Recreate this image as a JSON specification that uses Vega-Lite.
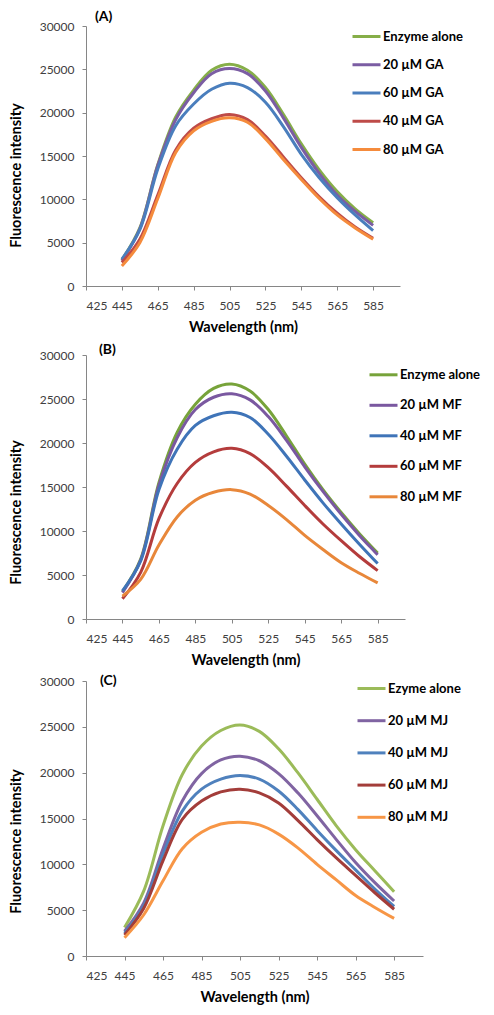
{
  "$schema": "https://vega.github.io/schema/vega-lite/v6.json",
  "background": "white",
  "padding": {"left": 8, "top": 10, "right": 5, "bottom": 5},
  "config": {
    "view": {"stroke": null},
    "font": "Lato",
    "axis": {"grid": false, "domainColor": "#868686", "tickColor": "#868686", "tickSize": 4, "labelFont": "Lato", "labelFontSize": 12, "labelColor": "#404040", "titleFont": "Lato", "titleFontSize": 14.5, "titleFontWeight": "bold", "titleColor": "#000000"},
    "axisX": {"labelPadding": 10, "titlePadding": 9},
    "axisY": {"labelPadding": 8, "titleBaseline": "middle", "titleX": -70},
    "legend": {"orient": "none", "title": null, "symbolType": "stroke", "symbolSize": 784, "symbolStrokeWidth": 3, "labelFont": "Lato", "labelFontSize": 13, "labelFontWeight": "bold", "labelColor": "#000000", "labelOffset": 1, "padding": 0, "offset": 0},
    "title": {"font": "Lato", "fontSize": 14, "fontWeight": "bold", "color": "#000000", "anchor": "start", "frame": "group"}
  },
  "datasets": {
    "A": [
      {"s": "Enzyme alone", "x": 445, "y": 3000}, {"s": "Enzyme alone", "x": 455, "y": 6700}, {"s": "Enzyme alone", "x": 465, "y": 14000}, {"s": "Enzyme alone", "x": 475, "y": 19500}, {"s": "Enzyme alone", "x": 485, "y": 22600}, {"s": "Enzyme alone", "x": 495, "y": 24900}, {"s": "Enzyme alone", "x": 505, "y": 25600}, {"s": "Enzyme alone", "x": 515, "y": 24900}, {"s": "Enzyme alone", "x": 525, "y": 22900}, {"s": "Enzyme alone", "x": 535, "y": 19800}, {"s": "Enzyme alone", "x": 545, "y": 16400}, {"s": "Enzyme alone", "x": 555, "y": 13400}, {"s": "Enzyme alone", "x": 565, "y": 10900}, {"s": "Enzyme alone", "x": 575, "y": 8900}, {"s": "Enzyme alone", "x": 585, "y": 7300},
      {"s": "20 µM GA", "x": 445, "y": 2900}, {"s": "20 µM GA", "x": 455, "y": 6600}, {"s": "20 µM GA", "x": 465, "y": 13900}, {"s": "20 µM GA", "x": 475, "y": 19200}, {"s": "20 µM GA", "x": 485, "y": 22300}, {"s": "20 µM GA", "x": 495, "y": 24500}, {"s": "20 µM GA", "x": 505, "y": 25100}, {"s": "20 µM GA", "x": 515, "y": 24500}, {"s": "20 µM GA", "x": 525, "y": 22500}, {"s": "20 µM GA", "x": 535, "y": 19400}, {"s": "20 µM GA", "x": 545, "y": 16000}, {"s": "20 µM GA", "x": 555, "y": 13000}, {"s": "20 µM GA", "x": 565, "y": 10500}, {"s": "20 µM GA", "x": 575, "y": 8600}, {"s": "20 µM GA", "x": 585, "y": 7000},
      {"s": "60 µM GA", "x": 445, "y": 3100}, {"s": "60 µM GA", "x": 455, "y": 6500}, {"s": "60 µM GA", "x": 465, "y": 13500}, {"s": "60 µM GA", "x": 475, "y": 18500}, {"s": "60 µM GA", "x": 485, "y": 21000}, {"s": "60 µM GA", "x": 495, "y": 22700}, {"s": "60 µM GA", "x": 505, "y": 23400}, {"s": "60 µM GA", "x": 515, "y": 22900}, {"s": "60 µM GA", "x": 525, "y": 21200}, {"s": "60 µM GA", "x": 535, "y": 18400}, {"s": "60 µM GA", "x": 545, "y": 15200}, {"s": "60 µM GA", "x": 555, "y": 12500}, {"s": "60 µM GA", "x": 565, "y": 10200}, {"s": "60 µM GA", "x": 575, "y": 8200}, {"s": "60 µM GA", "x": 585, "y": 6400},
      {"s": "40 µM GA", "x": 445, "y": 2700}, {"s": "40 µM GA", "x": 455, "y": 5400}, {"s": "40 µM GA", "x": 465, "y": 10500}, {"s": "40 µM GA", "x": 475, "y": 15700}, {"s": "40 µM GA", "x": 485, "y": 18200}, {"s": "40 µM GA", "x": 495, "y": 19300}, {"s": "40 µM GA", "x": 505, "y": 19800}, {"s": "40 µM GA", "x": 515, "y": 19200}, {"s": "40 µM GA", "x": 525, "y": 17300}, {"s": "40 µM GA", "x": 535, "y": 14900}, {"s": "40 µM GA", "x": 545, "y": 12500}, {"s": "40 µM GA", "x": 555, "y": 10300}, {"s": "40 µM GA", "x": 565, "y": 8400}, {"s": "40 µM GA", "x": 575, "y": 6800}, {"s": "40 µM GA", "x": 585, "y": 5500},
      {"s": "80 µM GA", "x": 445, "y": 2300}, {"s": "80 µM GA", "x": 455, "y": 5000}, {"s": "80 µM GA", "x": 465, "y": 10100}, {"s": "80 µM GA", "x": 475, "y": 15400}, {"s": "80 µM GA", "x": 485, "y": 17900}, {"s": "80 µM GA", "x": 495, "y": 19000}, {"s": "80 µM GA", "x": 505, "y": 19400}, {"s": "80 µM GA", "x": 515, "y": 18900}, {"s": "80 µM GA", "x": 525, "y": 17000}, {"s": "80 µM GA", "x": 535, "y": 14600}, {"s": "80 µM GA", "x": 545, "y": 12300}, {"s": "80 µM GA", "x": 555, "y": 10100}, {"s": "80 µM GA", "x": 565, "y": 8200}, {"s": "80 µM GA", "x": 575, "y": 6700}, {"s": "80 µM GA", "x": 585, "y": 5400}
    ],
    "B": [
      {"s": "Enzyme alone", "x": 445, "y": 3100}, {"s": "Enzyme alone", "x": 455, "y": 6800}, {"s": "Enzyme alone", "x": 465, "y": 15500}, {"s": "Enzyme alone", "x": 475, "y": 21200}, {"s": "Enzyme alone", "x": 485, "y": 24400}, {"s": "Enzyme alone", "x": 495, "y": 26200}, {"s": "Enzyme alone", "x": 505, "y": 26700}, {"s": "Enzyme alone", "x": 515, "y": 25900}, {"s": "Enzyme alone", "x": 525, "y": 23800}, {"s": "Enzyme alone", "x": 535, "y": 20800}, {"s": "Enzyme alone", "x": 545, "y": 17600}, {"s": "Enzyme alone", "x": 555, "y": 14700}, {"s": "Enzyme alone", "x": 565, "y": 12100}, {"s": "Enzyme alone", "x": 575, "y": 9700}, {"s": "Enzyme alone", "x": 585, "y": 7500},
      {"s": "20 µM MF", "x": 445, "y": 3000}, {"s": "20 µM MF", "x": 455, "y": 6700}, {"s": "20 µM MF", "x": 465, "y": 15200}, {"s": "20 µM MF", "x": 475, "y": 20600}, {"s": "20 µM MF", "x": 485, "y": 23800}, {"s": "20 µM MF", "x": 495, "y": 25200}, {"s": "20 µM MF", "x": 505, "y": 25600}, {"s": "20 µM MF", "x": 515, "y": 24900}, {"s": "20 µM MF", "x": 525, "y": 23000}, {"s": "20 µM MF", "x": 535, "y": 20300}, {"s": "20 µM MF", "x": 545, "y": 17300}, {"s": "20 µM MF", "x": 555, "y": 14500}, {"s": "20 µM MF", "x": 565, "y": 11900}, {"s": "20 µM MF", "x": 575, "y": 9500}, {"s": "20 µM MF", "x": 585, "y": 7300},
      {"s": "40 µM MF", "x": 445, "y": 3200}, {"s": "40 µM MF", "x": 455, "y": 6600}, {"s": "40 µM MF", "x": 465, "y": 14700}, {"s": "40 µM MF", "x": 475, "y": 19300}, {"s": "40 µM MF", "x": 485, "y": 22000}, {"s": "40 µM MF", "x": 495, "y": 23100}, {"s": "40 µM MF", "x": 505, "y": 23500}, {"s": "40 µM MF", "x": 515, "y": 22900}, {"s": "40 µM MF", "x": 525, "y": 21000}, {"s": "40 µM MF", "x": 535, "y": 18500}, {"s": "40 µM MF", "x": 545, "y": 15800}, {"s": "40 µM MF", "x": 555, "y": 13200}, {"s": "40 µM MF", "x": 565, "y": 10800}, {"s": "40 µM MF", "x": 575, "y": 8500}, {"s": "40 µM MF", "x": 585, "y": 6300},
      {"s": "60 µM MF", "x": 445, "y": 2300}, {"s": "60 µM MF", "x": 455, "y": 5300}, {"s": "60 µM MF", "x": 465, "y": 11400}, {"s": "60 µM MF", "x": 475, "y": 15400}, {"s": "60 µM MF", "x": 485, "y": 17800}, {"s": "60 µM MF", "x": 495, "y": 19000}, {"s": "60 µM MF", "x": 505, "y": 19400}, {"s": "60 µM MF", "x": 515, "y": 18800}, {"s": "60 µM MF", "x": 525, "y": 17200}, {"s": "60 µM MF", "x": 535, "y": 15100}, {"s": "60 µM MF", "x": 545, "y": 12900}, {"s": "60 µM MF", "x": 555, "y": 10800}, {"s": "60 µM MF", "x": 565, "y": 8900}, {"s": "60 µM MF", "x": 575, "y": 7100}, {"s": "60 µM MF", "x": 585, "y": 5500},
      {"s": "80 µM MF", "x": 445, "y": 2600}, {"s": "80 µM MF", "x": 455, "y": 4500}, {"s": "80 µM MF", "x": 465, "y": 8400}, {"s": "80 µM MF", "x": 475, "y": 11600}, {"s": "80 µM MF", "x": 485, "y": 13500}, {"s": "80 µM MF", "x": 495, "y": 14400}, {"s": "80 µM MF", "x": 505, "y": 14700}, {"s": "80 µM MF", "x": 515, "y": 14200}, {"s": "80 µM MF", "x": 525, "y": 12900}, {"s": "80 µM MF", "x": 535, "y": 11300}, {"s": "80 µM MF", "x": 545, "y": 9500}, {"s": "80 µM MF", "x": 555, "y": 7900}, {"s": "80 µM MF", "x": 565, "y": 6400}, {"s": "80 µM MF", "x": 575, "y": 5200}, {"s": "80 µM MF", "x": 585, "y": 4100}
    ],
    "C": [
      {"s": "Ezyme alone", "x": 445, "y": 3100}, {"s": "Ezyme alone", "x": 455, "y": 7100}, {"s": "Ezyme alone", "x": 465, "y": 14200}, {"s": "Ezyme alone", "x": 475, "y": 19800}, {"s": "Ezyme alone", "x": 485, "y": 22900}, {"s": "Ezyme alone", "x": 495, "y": 24600}, {"s": "Ezyme alone", "x": 505, "y": 25200}, {"s": "Ezyme alone", "x": 515, "y": 24500}, {"s": "Ezyme alone", "x": 525, "y": 22600}, {"s": "Ezyme alone", "x": 535, "y": 20000}, {"s": "Ezyme alone", "x": 545, "y": 17100}, {"s": "Ezyme alone", "x": 555, "y": 14200}, {"s": "Ezyme alone", "x": 565, "y": 11600}, {"s": "Ezyme alone", "x": 575, "y": 9300}, {"s": "Ezyme alone", "x": 585, "y": 7000},
      {"s": "20 µM MJ", "x": 445, "y": 2700}, {"s": "20 µM MJ", "x": 455, "y": 5800}, {"s": "20 µM MJ", "x": 465, "y": 11700}, {"s": "20 µM MJ", "x": 475, "y": 16900}, {"s": "20 µM MJ", "x": 485, "y": 19900}, {"s": "20 µM MJ", "x": 495, "y": 21400}, {"s": "20 µM MJ", "x": 505, "y": 21800}, {"s": "20 µM MJ", "x": 515, "y": 21300}, {"s": "20 µM MJ", "x": 525, "y": 19900}, {"s": "20 µM MJ", "x": 535, "y": 17800}, {"s": "20 µM MJ", "x": 545, "y": 15300}, {"s": "20 µM MJ", "x": 555, "y": 12700}, {"s": "20 µM MJ", "x": 565, "y": 10200}, {"s": "20 µM MJ", "x": 575, "y": 8000}, {"s": "20 µM MJ", "x": 585, "y": 6000},
      {"s": "40 µM MJ", "x": 445, "y": 2500}, {"s": "40 µM MJ", "x": 455, "y": 5500}, {"s": "40 µM MJ", "x": 465, "y": 11100}, {"s": "40 µM MJ", "x": 475, "y": 15800}, {"s": "40 µM MJ", "x": 485, "y": 18200}, {"s": "40 µM MJ", "x": 495, "y": 19300}, {"s": "40 µM MJ", "x": 505, "y": 19700}, {"s": "40 µM MJ", "x": 515, "y": 19300}, {"s": "40 µM MJ", "x": 525, "y": 18000}, {"s": "40 µM MJ", "x": 535, "y": 16000}, {"s": "40 µM MJ", "x": 545, "y": 13700}, {"s": "40 µM MJ", "x": 555, "y": 11500}, {"s": "40 µM MJ", "x": 565, "y": 9400}, {"s": "40 µM MJ", "x": 575, "y": 7300}, {"s": "40 µM MJ", "x": 585, "y": 5400},
      {"s": "60 µM MJ", "x": 445, "y": 2300}, {"s": "60 µM MJ", "x": 455, "y": 5200}, {"s": "60 µM MJ", "x": 465, "y": 10400}, {"s": "60 µM MJ", "x": 475, "y": 14900}, {"s": "60 µM MJ", "x": 485, "y": 16900}, {"s": "60 µM MJ", "x": 495, "y": 17900}, {"s": "60 µM MJ", "x": 505, "y": 18200}, {"s": "60 µM MJ", "x": 515, "y": 17800}, {"s": "60 µM MJ", "x": 525, "y": 16700}, {"s": "60 µM MJ", "x": 535, "y": 14800}, {"s": "60 µM MJ", "x": 545, "y": 12700}, {"s": "60 µM MJ", "x": 555, "y": 10700}, {"s": "60 µM MJ", "x": 565, "y": 8800}, {"s": "60 µM MJ", "x": 575, "y": 6900}, {"s": "60 µM MJ", "x": 585, "y": 5100},
      {"s": "80 µM MJ", "x": 445, "y": 2000}, {"s": "80 µM MJ", "x": 455, "y": 4500}, {"s": "80 µM MJ", "x": 465, "y": 8200}, {"s": "80 µM MJ", "x": 475, "y": 11700}, {"s": "80 µM MJ", "x": 485, "y": 13500}, {"s": "80 µM MJ", "x": 495, "y": 14400}, {"s": "80 µM MJ", "x": 505, "y": 14600}, {"s": "80 µM MJ", "x": 515, "y": 14300}, {"s": "80 µM MJ", "x": 525, "y": 13300}, {"s": "80 µM MJ", "x": 535, "y": 11800}, {"s": "80 µM MJ", "x": 545, "y": 10000}, {"s": "80 µM MJ", "x": 555, "y": 8300}, {"s": "80 µM MJ", "x": 565, "y": 6600}, {"s": "80 µM MJ", "x": 575, "y": 5300}, {"s": "80 µM MJ", "x": 585, "y": 4100}
    ]
  },
  "bounds": "flush",
  "spacing": 69,
  "resolve": {"scale": {"color": "independent", "x": "independent", "y": "independent"}, "legend": {"color": "independent"}},
  "vconcat": [
    {
      "width": 314, "height": 260,
      "title": {"text": "(A)", "dx": 9, "offset": -4},
      "data": {"name": "A"},
      "mark": {"type": "line", "interpolate": "catmull-rom", "strokeWidth": 3},
      "encoding": {
        "x": {"field": "x", "type": "quantitative", "scale": {"domain": [425, 600], "nice": false}, "axis": {"values": [425, 445, 465, 485, 505, 525, 545, 565, 585], "title": "Wavelength (nm)"}},
        "y": {"field": "y", "type": "quantitative", "scale": {"domain": [0, 30000], "nice": false}, "axis": {"values": [0, 5000, 10000, 15000, 20000, 25000, 30000], "format": "d", "title": "Fluorescence intensity", "titleY": 149}},
        "color": {"field": "s", "type": "nominal", "sort": null,
          "scale": {"domain": ["Enzyme alone", "20 µM GA", "60 µM GA", "40 µM GA", "80 µM GA"], "range": ["#86AE48", "#7B5DA3", "#4A7EBD", "#BE4B48", "#F58B3C"]},
          "legend": {"legendX": 265, "legendY": -5, "rowPadding": 5.25}}
      }
    },
    {
      "bounds": "flush",
      "spacing": 62,
      "resolve": {"scale": {"color": "independent", "x": "independent", "y": "independent"}, "legend": {"color": "independent"}},
      "vconcat": [
        {
          "width": 319, "height": 264,
          "title": {"text": "(B)", "dx": 13, "offset": -8},
          "data": {"name": "B"},
          "mark": {"type": "line", "interpolate": "catmull-rom", "strokeWidth": 3},
          "encoding": {
            "x": {"field": "x", "type": "quantitative", "scale": {"domain": [425, 600], "nice": false}, "axis": {"values": [425, 445, 465, 485, 505, 525, 545, 565, 585], "title": "Wavelength (nm)"}},
            "y": {"field": "y", "type": "quantitative", "scale": {"domain": [0, 30000], "nice": false}, "axis": {"values": [0, 5000, 10000, 15000, 20000, 25000, 30000], "format": "d", "title": "Fluorescence intensity", "titleY": 157}},
            "color": {"field": "s", "type": "nominal", "sort": null,
              "scale": {"domain": ["Enzyme alone", "20 µM MF", "40 µM MF", "60 µM MF", "80 µM MF"], "range": ["#77A33A", "#7A58A0", "#3F74B8", "#B43C3C", "#E8873A"]},
              "legend": {"legendX": 282, "legendY": 4.3, "rowPadding": 7.5}}
          }
        },
        {
          "width": 337, "height": 275,
          "title": {"text": "(C)", "dx": 14, "offset": -15},
          "data": {"name": "C"},
          "mark": {"type": "line", "interpolate": "catmull-rom", "strokeWidth": 3},
          "encoding": {
            "x": {"field": "x", "type": "quantitative", "scale": {"domain": [425, 600], "nice": false}, "axis": {"values": [425, 445, 465, 485, 505, 525, 545, 565, 585], "title": "Wavelength (nm)"}},
            "y": {"field": "y", "type": "quantitative", "scale": {"domain": [0, 30000], "nice": false}, "axis": {"values": [0, 5000, 10000, 15000, 20000, 25000, 30000], "format": "d", "title": "Fluorescence intensity", "titleY": 160}},
            "color": {"field": "s", "type": "nominal", "sort": null,
              "scale": {"domain": ["Ezyme alone", "20 µM MJ", "40 µM MJ", "60 µM MJ", "80 µM MJ"], "range": ["#9BBB59", "#8064A2", "#4F81BD", "#A33D3A", "#F79646"]},
              "legend": {"legendX": 270, "legendY": -8, "rowPadding": 9.2}}
          }
        }
      ]
    }
  ]
}
